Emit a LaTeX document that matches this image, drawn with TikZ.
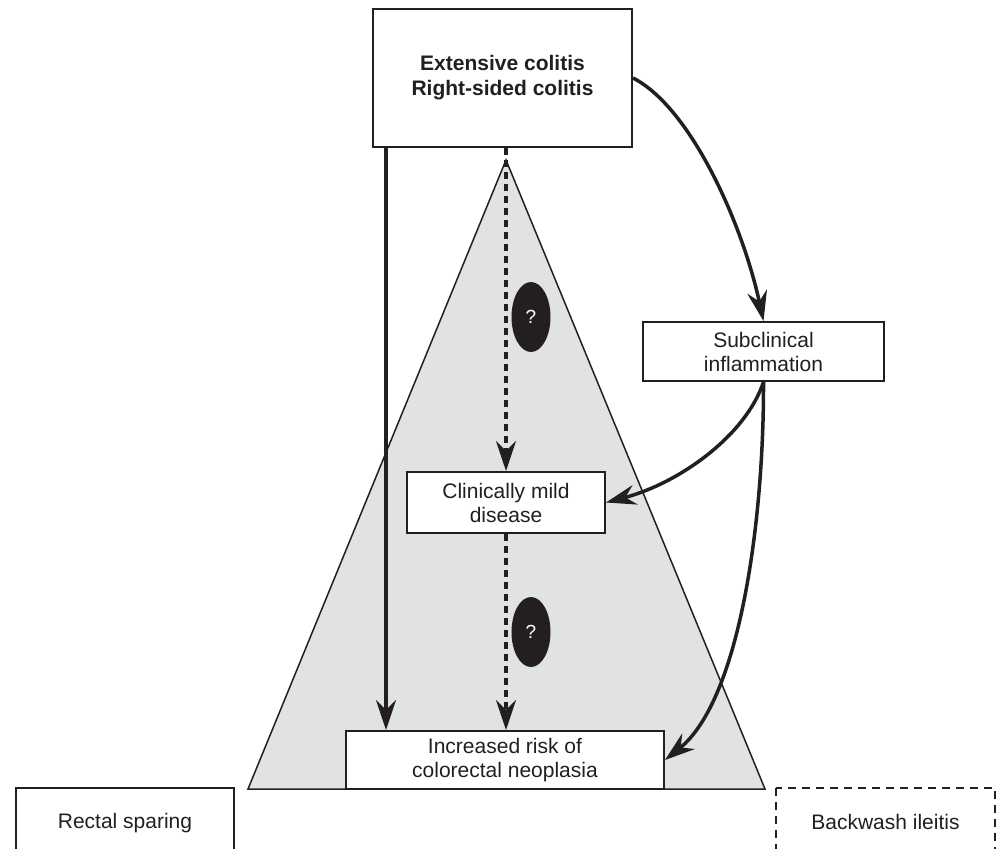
\documentclass[tikz,border=0pt]{standalone}
\usepackage{fontspec}
\setmainfont{Liberation Sans}
\usetikzlibrary{arrows.meta,shapes.geometric}
\definecolor{ink}{HTML}{231F20}
\definecolor{tri}{HTML}{E1E2E4}
\begin{document}
\begin{tikzpicture}[x=1pt,y=-1pt,
  box/.style={draw=ink, line width=2pt, fill=white, text=ink, align=center, inner sep=0pt, font=\fontsize{21}{24}\selectfont},
  arr/.style={draw=ink, line width=3.5pt, -{Stealth[length=30pt,width=20pt,inset=10pt]}},
  dasharr/.style={arr, dash pattern=on 7pt off 5pt},
  qmark/.style={ellipse, fill=ink, minimum width=39pt, minimum height=70pt, inner sep=0pt, text=white, font=\fontsize{19}{19}\selectfont}]
\useasboundingbox (0,0) rectangle (997,849);
% triangle
\path[fill=tri, draw=ink, line width=1.5pt, line join=miter] (506,160) -- (765,789) -- (248,789) -- cycle;
% question marks
\node[qmark] (q1) at (531,317) {?};
\node[qmark] (q2) at (531,632) {?};
% boxes
\node[box, minimum width=259pt, minimum height=138pt, font=\bfseries\fontsize{21}{25}\selectfont] (top) at (502.5,78) {Extensive colitis\\Right-sided colitis};
\node[box, minimum width=241pt, minimum height=59pt] (sub) at (763.5,351.5) {Subclinical\\inflammation};
\node[box, minimum width=198pt, minimum height=61pt] (mild) at (506,502.5) {Clinically mild\\disease};
\node[box, minimum width=318pt, minimum height=58pt] (inc) at (505,760) {Increased risk of\\colorectal neoplasia};
\draw[draw=ink, line width=2pt] (16,788) rectangle (234,880);
\node[text=ink, font=\fontsize{21}{24}\selectfont] (rs) at (125,823) {Rectal sparing};
\draw[draw=ink, line width=2pt, dash pattern=on 8pt off 6pt] (776,788) rectangle (995,880);
\node[text=ink, font=\fontsize{21}{24}\selectfont] (bw) at (885.5,822) {Backwash ileitis};
% arrows
\draw[arr] ([xshift=14pt]top.south west) -- ([xshift=41pt]inc.north west);
\draw[dasharr] (top.south -| mild.north) -- (mild.north);
\draw[dasharr] (mild.south) -- (mild.south |- inc.north);
\draw[arr] (top.east) .. controls (690,107) and (742,222) .. (sub.north);
\draw[arr] (sub.south) .. controls (746,435) and (680,483) .. (mild.east);
\draw[arr] (sub.south) .. controls (764,520) and (740,700) .. (inc.east);
\end{tikzpicture}
\end{document}
